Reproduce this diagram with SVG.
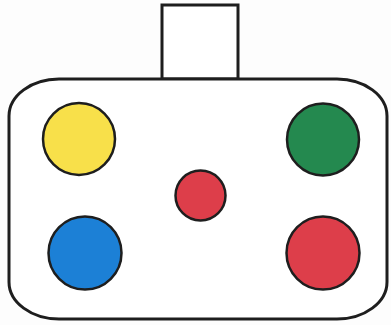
<svg xmlns="http://www.w3.org/2000/svg" width="391" height="325" viewBox="0 0 391 325">
<style>
.outline{fill:#fff;stroke:#1e1e1e;stroke-width:3}
.dot{stroke:#1e1e1e;stroke-width:2.5}
</style>
<rect width="391" height="325" fill="#fdfdfd"/>
<g id="top-box"><rect class="outline" x="162" y="5" width="76" height="74"/></g>
<g id="body"><rect class="outline" x="9" y="79" width="378" height="240" rx="50" ry="37"/></g>
<g id="yellow"><circle class="dot" cx="79" cy="139" r="36" fill="#F8E04A"/></g>
<g id="green"><circle class="dot" cx="323" cy="139.5" r="36" fill="#24894F"/></g>
<g id="small-red"><circle class="dot" cx="200.5" cy="195.5" r="25" fill="#DD3E4A"/></g>
<g id="blue"><circle class="dot" cx="85" cy="253" r="36.5" fill="#1C80D6"/></g>
<g id="big-red"><circle class="dot" cx="323" cy="253" r="36.5" fill="#DD3E4A"/></g>
<g id="connectors"></g>
</svg>
